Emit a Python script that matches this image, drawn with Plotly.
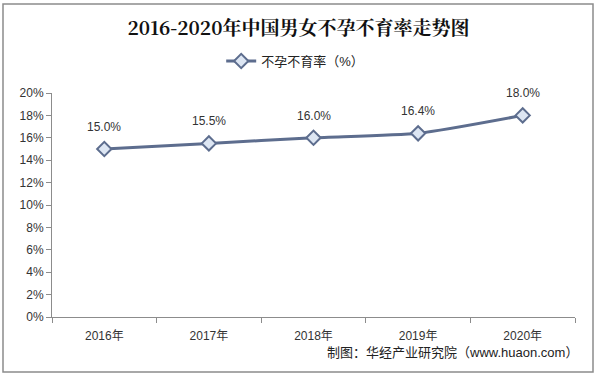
import plotly.graph_objects as go

years = ["2016年", "2017年", "2018年", "2019年", "2020年"]
rates = [15.0, 15.5, 16.0, 16.4, 18.0]
labels = ["15.0%", "15.5%", "16.0%", "16.4%", "18.0%"]
y_ticks = [0, 2, 4, 6, 8, 10, 12, 14, 16, 18, 20]
y_tick_text = [f"{v}%" for v in y_ticks]

font_cn = "Liberation Sans, Noto Sans CJK SC, sans-serif"
line_color = "#5d6d8e"

fig = go.Figure()
fig.add_trace(go.Scatter(
    x=years, y=rates, mode="lines+markers",
    name="不孕不育率（%）",
    line=dict(color=line_color, width=3, shape="spline", smoothing=0.6),
    marker=dict(symbol="diamond", size=11, color="#dde6f3",
                line=dict(color=line_color, width=2)),
    cliponaxis=False,
))

annotations = [dict(x=xv, y=yv, text=t, xref="x", yref="y", showarrow=False,
                    yshift=22, font=dict(size=12, color="#333333", family=font_cn))
               for xv, yv, t in zip(years, rates, labels)]
annotations.append(dict(text="制图：华经产业研究院（www.huaon.com）", xref="paper", yref="paper",
                        x=1.01, xanchor="right", y=-35/224, yanchor="middle", showarrow=False,
                        font=dict(size=13, color="#222222", family=font_cn)))

fig.update_layout(
    width=597, height=379,
    margin=dict(l=52, r=22, t=93, b=62, autoexpand=False),
    paper_bgcolor="white", plot_bgcolor="white",
    title=dict(text="<b>2016-2020年中国男女不孕不育率走势图</b>", x=0.5, xanchor="center",
               y=0.925, yanchor="middle",
               font=dict(size=19, color="#111111", family="Noto Serif CJK SC, Noto Sans CJK SC, serif")),
    showlegend=True,
    legend=dict(orientation="h", x=0.465, xanchor="center", y=1 + 32/224, yanchor="middle",
                font=dict(size=13, color="#222222", family=font_cn),
                bgcolor="rgba(0,0,0,0)", itemwidth=30),
    shapes=[dict(type="rect", xref="paper", yref="paper",
                 x0=-49/523, x1=1 + 18/523, y0=-55/224, y1=1 + 89/224,
                 line=dict(color="#8c8c8c", width=1.5))],
    annotations=annotations,
)
fig.update_xaxes(
    type="category", range=[-0.5, 4.5], showline=True, linecolor="#8c8c8c", linewidth=1,
    ticks="outside", tickson="boundaries", ticklen=5, tickcolor="#8c8c8c",
    showgrid=False, automargin=False, ticklabelstandoff=8,
    tickfont=dict(size=12, color="#333333", family=font_cn),
)
fig.update_yaxes(
    range=[0, 20], tickvals=y_ticks, ticktext=y_tick_text,
    showline=True, linecolor="#8c8c8c", linewidth=1,
    ticks="outside", ticklen=5, tickcolor="#8c8c8c",
    showgrid=False, zeroline=False, automargin=False,
    tickfont=dict(size=12, color="#333333", family=font_cn),
)

fig.write_html("out.html", config={"displayModeBar": False},
               post_script="document.body.style.margin='0';document.body.style.overflow='hidden';")
